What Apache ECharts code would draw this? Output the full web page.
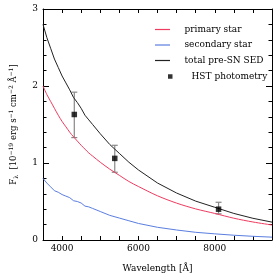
<!DOCTYPE html>
<html><head><meta charset="utf-8">
<script src="https://cdn.jsdelivr.net/npm/echarts@6/dist/echarts.min.js"></script>
<style>html,body{margin:0;padding:0;background:#fff}#c{width:279px;height:279px}</style>
</head><body><div id="c"></div>
<script>
const wavelengths = [3500,3600,3700,3800,3900,4000,4100,4200,4300,4400,4500,4600,4700,4800,5000,5250,5500,5750,6000,6500,7000,7500,8000,8500,9000,9500];
const primaryStar = [2.00,1.89,1.80,1.71,1.62,1.54,1.47,1.40,1.34,1.285,1.23,1.18,1.13,1.09,1.01,0.92,0.84,0.76,0.695,0.574,0.479,0.404,0.345,0.283,0.234,0.195];
const secondaryStar = [0.80,0.74,0.69,0.64,0.62,0.59,0.57,0.55,0.51,0.50,0.48,0.44,0.43,0.41,0.37,0.32,0.285,0.25,0.215,0.165,0.13,0.10,0.08,0.062,0.048,0.037];
const totalSED = [2.80,2.63,2.49,2.35,2.24,2.13,2.04,1.95,1.85,1.785,1.71,1.62,1.56,1.50,1.38,1.24,1.125,1.01,0.91,0.74,0.61,0.505,0.425,0.345,0.282,0.232];
const hstWave = [4320,5380,8100];
const hstFlux = [1.63,1.06,0.40];
const hstLow = [1.33,0.88,0.34];
const hstHigh = [1.92,1.23,0.49];
const xTickLabels = [4000,6000,8000];
const yTickLabels = [0,1,2,3];

const FONT = 'DejaVu Serif';
const chart = echarts.init(document.getElementById('c'));
const pair = (xs, ys) => xs.map((x,i)=>[x, ys[i]]);
const xCommon = {type:'value', min:3500, max:9500, interval:500,
  axisLine:{show:true, onZero:false, lineStyle:{color:'#000',width:1}},
  axisTick:{show:true, inside:true, length:4, lineStyle:{color:'#000'}},
  splitLine:{show:false}};
const yCommon = {type:'value', min:0, max:3, interval:1,
  axisLine:{show:true, onZero:false, lineStyle:{color:'#000',width:1}},
  axisTick:{show:true, inside:true, length:6, lineStyle:{color:'#000'}},
  minorTick:{show:true, splitNumber:5, length:3.5, lineStyle:{color:'#000'}},
  splitLine:{show:false}, minorSplitLine:{show:false}};
const lineLegend = (name, color) => ({name, icon:'path://M0,0L1,0L1,0.08L0,0.08Z', itemStyle:{color:color}});

chart.setOption({
  animation:false,
  backgroundColor:'#fff',
  grid:{left:39, right:7, top:9, bottom:39, containLabel:false},
  textStyle:{fontFamily:FONT},
  legend:[{
    data:[lineLegend('primary star','#ee3b60'), lineLegend('secondary star','#5a7ee0'), lineLegend('total pre-SN SED','#222')],
    orient:'vertical', left:155, top:24, padding:0, itemWidth:28, itemHeight:1.2, itemGap:4.5,
    textStyle:{fontFamily:FONT, fontSize:9, color:'#000', padding:[0,0,0,3], lineHeight:11},
    selectedMode:false
  },{
    data:[{name:'HST photometry', icon:'rect'}],
    orient:'vertical', left:168, top:72, padding:0, itemWidth:4.5, itemHeight:4.5,
    textStyle:{fontFamily:FONT, fontSize:9, color:'#000', padding:[0,0,0,14]},
    selectedMode:false
  }],
  xAxis:[Object.assign({}, xCommon, {position:'bottom',
    name:'Wavelength [Å]', nameLocation:'middle', nameGap:24,
    nameTextStyle:{fontFamily:FONT, fontSize:9, color:'#000'},
    axisLabel:{show:true, margin:4, fontFamily:FONT, fontSize:9, color:'#000',
      formatter:v=> xTickLabels.includes(v) ? String(v) : ''}}),
    Object.assign({}, xCommon, {position:'top', axisLabel:{show:false}})],
  yAxis:[Object.assign({}, yCommon, {position:'left',
    name:'{t|F}{s|λ}{t|  [10}{u|−19}{t| erg s}{u|−1}{t| cm}{u|−2}{t| Å}{u|−1}{t|]}',
    nameLocation:'middle', nameGap:24, nameRotate:90,
    nameTextStyle:{fontFamily:FONT, color:'#000', rich:{
      t:{fontFamily:FONT, fontSize:8.5, color:'#000'},
      s:{fontFamily:FONT, fontSize:6, color:'#000', verticalAlign:'bottom', padding:[4,0,0,0]},
      u:{fontFamily:FONT, fontSize:6, color:'#000', verticalAlign:'top', padding:[0,0,5,0]}}},
    axisLabel:{show:true, margin:5, fontFamily:FONT, fontSize:9, color:'#000',
      formatter:v=> yTickLabels.includes(v) ? String(v) : ''}}),
    Object.assign({}, yCommon, {position:'right', axisLabel:{show:false}})],
  series:[
    {name:'primary star', type:'line', data:pair(wavelengths, primaryStar), symbol:'none', smooth:0.3,
      lineStyle:{color:'#ee3b60', width:1}, itemStyle:{color:'#ee3b60'}},
    {name:'secondary star', type:'line', data:pair(wavelengths, secondaryStar), symbol:'none',
      lineStyle:{color:'#5a7ee0', width:1}, itemStyle:{color:'#5a7ee0'}},
    {name:'total pre-SN SED', type:'line', data:pair(wavelengths, totalSED), symbol:'none',
      lineStyle:{color:'#222', width:1}, itemStyle:{color:'#222'}},
    {name:'errors', type:'custom', data:hstWave.map((w,i)=>[w, hstLow[i], hstHigh[i]]),
      renderItem:(params, api)=>{
        const lo = api.coord([api.value(0), api.value(1)]);
        const hi = api.coord([api.value(0), api.value(2)]);
        const hw = 3;
        const st = {stroke:'#888', lineWidth:1.2};
        return {type:'group', children:[
          {type:'line', shape:{x1:lo[0], y1:lo[1], x2:hi[0], y2:hi[1]}, style:st},
          {type:'line', shape:{x1:lo[0]-hw, y1:lo[1], x2:lo[0]+hw, y2:lo[1]}, style:st},
          {type:'line', shape:{x1:hi[0]-hw, y1:hi[1], x2:hi[0]+hw, y2:hi[1]}, style:st}
        ]};
      }, z:3},
    {name:'HST photometry', type:'scatter', data:pair(hstWave, hstFlux), symbol:'rect', symbolSize:5.5,
      itemStyle:{color:'#000'}, z:5}
  ]
});
</script></body></html>
